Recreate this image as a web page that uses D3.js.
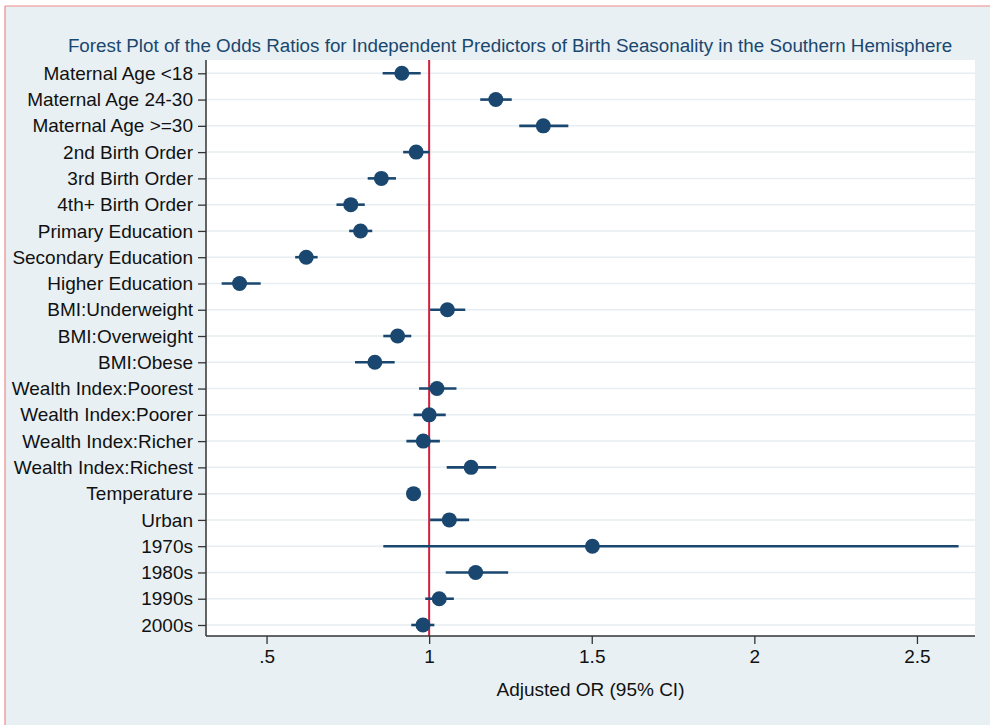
<!DOCTYPE html>
<html>
<head>
<meta charset="utf-8">
<script src="https://cdn.jsdelivr.net/npm/d3@7"></script>
<style>
  html, body { margin: 0; padding: 0; background: #fff; }
  svg { display: block; font-family: "Liberation Sans", Arial, sans-serif; }
</style>
</head>
<body>
<svg id="chart" width="990" height="725"></svg>
<script>
// predictors, top to bottom
const labels = [
    'Maternal Age <18', 'Maternal Age 24-30', 'Maternal Age >=30',
    '2nd Birth Order', '3rd Birth Order', '4th+ Birth Order',
    'Primary Education', 'Secondary Education', 'Higher Education',
    'BMI:Underweight', 'BMI:Overweight', 'BMI:Obese',
    'Wealth Index:Poorest', 'Wealth Index:Poorer', 'Wealth Index:Richer', 'Wealth Index:Richest',
    'Temperature', 'Urban', '1970s', '1980s', '1990s', '2000s'
];
const oddsRatio = [0.916, 1.205, 1.351, 0.960, 0.853, 0.759, 0.789, 0.622, 0.417,
    1.056, 0.903, 0.833, 1.024, 1.000, 0.982, 1.129, 0.952, 1.062, 1.502, 1.143, 1.031, 0.981];
const ciLow = [0.857, 1.157, 1.277, 0.920, 0.811, 0.715, 0.754, 0.588, 0.362,
    1.003, 0.859, 0.772, 0.969, 0.952, 0.930, 1.054, 0.946, 1.003, 0.859, 1.051, 0.988, 0.945];
const ciHigh = [0.974, 1.254, 1.428, 1.000, 0.898, 0.802, 0.825, 0.657, 0.482,
    1.111, 0.945, 0.894, 1.084, 1.051, 1.033, 1.206, 0.958, 1.123, 2.628, 1.243, 1.076, 1.016];
const xTicks = [0.5, 1, 1.5, 2, 2.5];
const xTickLabels = ['.5', '1', '1.5', '2', '2.5'];

const rows = labels.map((name, i) => ({ name, or: oddsRatio[i], lo: ciLow[i], hi: ciHigh[i] }));

const W = 990, H = 725;
const plot = { left: 206, right: 975, top: 60, bottom: 636 };
const navy = '#1a476f';
const fontSize = '19px';

const svg = d3.select('#chart');

// outer background + thin red frame
svg.append('rect').attr('width', W).attr('height', H).attr('fill', '#ffffff');
svg.append('rect').attr('x', 5).attr('y', 6).attr('width', W - 5).attr('height', H - 6)
    .attr('fill', '#e8f0f3');
svg.append('line').attr('x1', 5).attr('x2', 5).attr('y1', 6).attr('y2', H)
    .attr('stroke', '#ee8a8a').attr('stroke-width', 1.2);
svg.append('line').attr('x1', 5).attr('x2', W).attr('y1', 6).attr('y2', 6)
    .attr('stroke', '#ee8a8a').attr('stroke-width', 1.2);

svg.append('rect')
    .attr('x', plot.left).attr('y', plot.top)
    .attr('width', plot.right - plot.left).attr('height', plot.bottom - plot.top)
    .attr('fill', '#ffffff');

const x = d3.scaleLinear()
    .domain([0.3138, 2.6785])
    .range([plot.left, plot.right]);
const y = d3.scalePoint()
    .domain(labels)
    .range([73.3, 625]);

// gridlines
svg.append('g')
    .selectAll('line')
    .data(labels)
    .join('line')
    .attr('x1', plot.left).attr('x2', plot.right)
    .attr('y1', d => y(d)).attr('y2', d => y(d))
    .attr('stroke', '#e6eef1').attr('stroke-width', 1.5);

// reference line at OR = 1
svg.append('line')
    .attr('x1', x(1)).attr('x2', x(1))
    .attr('y1', plot.top).attr('y2', plot.bottom)
    .attr('stroke', '#d21f3c').attr('stroke-width', 2);

// y axis
const yAxis = svg.append('g')
    .attr('transform', `translate(${plot.left},0)`)
    .call(d3.axisLeft(y).tickSize(8).tickPadding(5));
yAxis.select('.domain').attr('stroke', '#333').attr('stroke-width', 1.5)
    .attr('d', `M0,${plot.top}V${plot.bottom}`);
yAxis.selectAll('.tick line').attr('stroke', '#333').attr('stroke-width', 1.3);
yAxis.selectAll('.tick text').attr('fill', '#111').style('font-size', fontSize);

// x axis
const xAxis = svg.append('g')
    .attr('transform', `translate(0,${plot.bottom})`)
    .call(d3.axisBottom(x).tickValues(xTicks)
        .tickFormat((d, i) => xTickLabels[i]).tickSize(8).tickPadding(6));
xAxis.select('.domain').attr('stroke', '#333').attr('stroke-width', 1.5)
    .attr('d', `M${plot.left},0H${plot.right}`);
xAxis.selectAll('.tick line').attr('stroke', '#333').attr('stroke-width', 1.3);
xAxis.selectAll('.tick text').attr('fill', '#111').style('font-size', fontSize);

// confidence intervals
svg.append('g')
    .selectAll('line')
    .data(rows)
    .join('line')
    .attr('x1', d => x(d.lo)).attr('x2', d => x(d.hi))
    .attr('y1', d => y(d.name)).attr('y2', d => y(d.name))
    .attr('stroke', navy).attr('stroke-width', 2.6);

// point estimates
svg.append('g')
    .selectAll('circle')
    .data(rows)
    .join('circle')
    .attr('cx', d => x(d.or))
    .attr('cy', d => y(d.name))
    .attr('r', 7.5)
    .attr('fill', navy);

// title
svg.append('text')
    .attr('x', 510).attr('y', 52)
    .attr('text-anchor', 'middle')
    .attr('fill', navy)
    .style('font-size', '18.8px')
    .text('Forest Plot of the Odds Ratios for Independent Predictors of Birth Seasonality in the Southern Hemisphere');

// x axis title
svg.append('text')
    .attr('x', (plot.left + plot.right) / 2).attr('y', 696)
    .attr('text-anchor', 'middle')
    .attr('fill', '#111')
    .style('font-size', fontSize)
    .text('Adjusted OR (95% CI)');
</script>
</body>
</html>
